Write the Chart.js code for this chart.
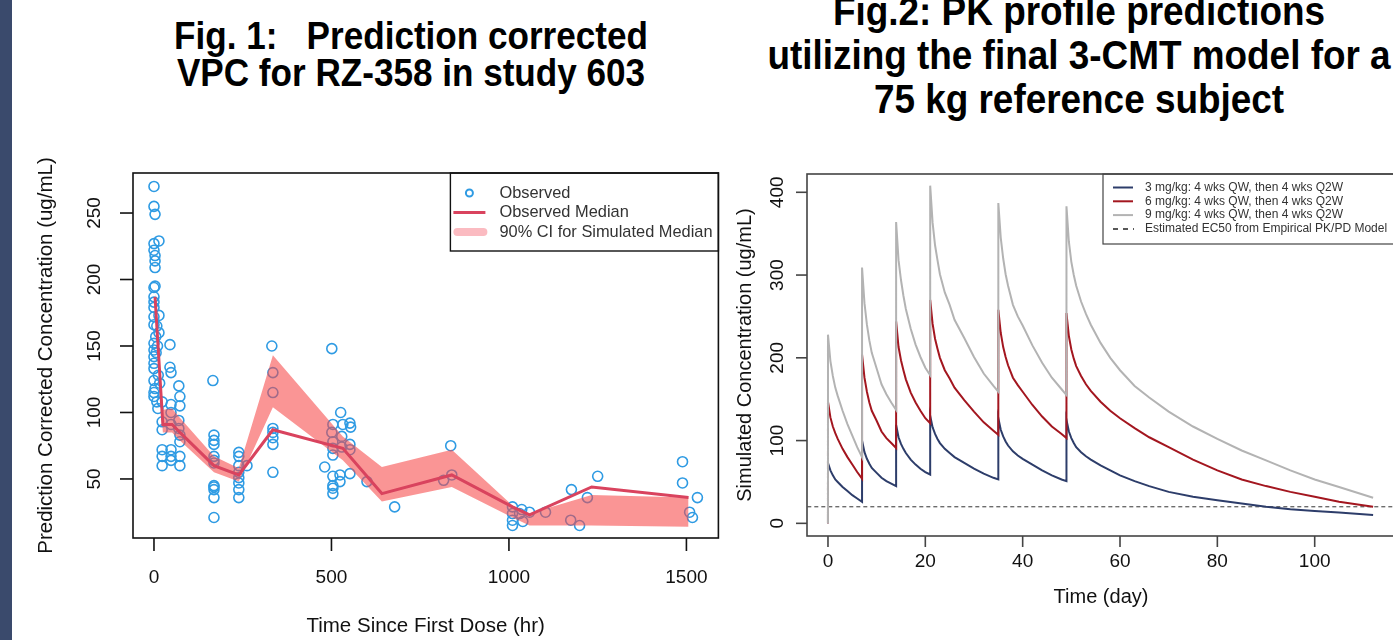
<!DOCTYPE html>
<html>
<head>
<meta charset="utf-8">
<script src="https://cdn.jsdelivr.net/npm/chart.js@4.4.1/dist/chart.umd.min.js"></script>
<style>
  html, body { margin: 0; padding: 0; background: #fff; }
  body { width: 1393px; height: 640px; overflow: hidden; position: relative; font-family: "Liberation Sans", Arial, sans-serif; }
  #strip { position: absolute; left: 0; top: 0; width: 12px; height: 640px; background: #3a4a6c; z-index: 2; }
  .t { position: absolute; font-weight: bold; color: #000; white-space: pre; transform: translateX(-50%) scaleX(0.9); }
  .t1 { font-size: 39px; line-height: 39px; }
  .t2 { font-size: 41px; line-height: 41px; }
  #c1 { position: absolute; left: 0; top: 0; }
  #c2 { position: absolute; left: 725px; top: 0; }
</style>
</head>
<body>
<div id="strip"></div>
<div class="t t1" style="left:411px; top:16px;">Fig. 1:   Prediction corrected</div>
<div class="t t1" style="left:411px; top:53px;">VPC for RZ-358 in study 603</div>
<div class="t t2" style="left:1079px; top:-9px;">Fig.2: PK profile predictions</div>
<div class="t t2" style="left:1079px; top:35px;">utilizing the final 3-CMT model for a</div>
<div class="t t2" style="left:1079px; top:79px;">75 kg reference subject</div>
<canvas id="c1" width="725" height="640"></canvas>
<canvas id="c2" width="675" height="640"></canvas>
<script>
// ---------- Fig. 1: pcVPC, observed data ----------
const obsTime = [0, 0, 3, 14, 0, 0, 3, 3, 3, 3, 0, 0, 0, 0, 14, 0, 0, 14, 0, 0, 45, 0, 45, 0, 0,
  48, 70, 0, 3, 0, 0, 73, 11, 23, 48, 73, 48, 70, 23, 23, 48, 70, 73, 73, 23, 48, 23, 48, 73, 23,
  48, 73, 8, 5, 10, 6, 12, 16, 8,
  166, 169, 169, 169, 169, 169, 169, 169, 169, 169, 169, 169,
  239, 239, 239, 239, 239, 239, 239, 239, 262,
  335, 335, 335, 335, 335, 335, 335, 332,
  501, 526, 504, 532, 552, 554, 501, 529, 504, 552, 504, 529, 504, 552, 481, 504, 524, 552, 504,
  504, 524, 504, 600, 678,
  836, 839, 816,
  1010, 1010, 1010, 1010, 1036, 1039, 1058, 1030, 1103,
  1176, 1174, 1199, 1221, 1250,
  1489, 1489, 1531, 1509, 1517];
const obsConc = [270, 255, 249, 229, 227, 222, 218, 214, 209, 195, 194, 187, 183, 179, 173, 172, 166, 160, 152, 147, 151, 142, 134, 137, 133,
  130, 120, 124, 118, 115, 112, 112, 103, 108, 106, 105, 100, 94, 93, 87, 91, 88, 83, 78, 72, 72, 67, 67, 67, 60,
  64, 60, 165, 157, 150, 145, 128, 122, 108,
  124, 83, 79, 76, 67, 64, 62, 45, 44, 42, 36, 21,
  70, 67, 60, 55, 51, 47, 42, 36, 60,
  130, 115, 88, 85, 81, 76, 55, 150,
  148, 100, 91, 91, 92, 89, 85, 82, 78, 76, 73, 74, 68, 72, 59, 52, 53, 54, 45,
  43, 48, 39, 48, 29,
  75, 53, 49,
  29, 24, 19, 15, 27, 18, 25, 24, 25,
  42, 19, 15, 36, 52,
  63, 47, 36, 25, 21];

// time bins, observed median and 90% CI of simulated median
const binTime  = [3, 25, 51, 73, 169, 239, 335, 532, 642, 839, 1010, 1058, 1233, 1506];
const obsMedian = [187, 91, 91, 85, 60, 53, 87, 73, 39, 53, 29, 23, 44, 36];
const ciUpper   = [190, 102, 103, 96, 67, 58, 143, 82, 59, 72, 30, 24, 38, 36];
const ciLower   = [178, 85, 85, 79, 55, 48, 104, 64, 33, 44, 21, 15, 15, 14];

const xTicks1 = [0, 500, 1000, 1500];
const yTicks1 = [50, 100, 150, 200, 250];
const legend1 = ['Observed', 'Observed Median', '90% CI for Simulated Median'];

// ---------- Fig. 2: PK profiles (days) ----------
const pkDay = [0, 0, 0.5, 1, 1.5, 2, 3, 4, 5, 6, 7,
  7, 7.5, 8, 8.5, 9, 10, 11, 12, 13, 14,
  14, 14.5, 15, 15.5, 16, 17, 18, 19, 20, 21,
  21, 21.5, 22, 22.5, 23, 24, 25, 26, 28, 30, 32, 34, 35,
  35, 35.5, 36, 36.5, 37, 38, 39, 40, 42, 44, 46, 48, 49,
  49, 49.5, 50, 50.5, 51, 52, 53, 54, 56, 58, 60, 63, 66, 70, 75, 80, 85, 90, 95, 100, 105, 112];
const conc3mg = [0, 73, 64, 58, 53, 50, 44, 39, 34, 30, 26,
  100, 86, 78, 72, 67, 61, 55, 51, 48, 45,
  119, 104, 96, 90, 85, 77, 71, 66, 62, 59,
  130, 116, 108, 102, 97, 90, 85, 80, 73, 66, 60, 55, 53,
  127, 113, 105, 99, 94, 87, 82, 78, 71, 64, 58, 53, 51,
  125, 111, 103, 97, 92, 86, 81, 77, 70, 64, 58, 51, 45, 38, 32, 28, 24, 20, 17, 15, 13, 10];
const conc6mg = [0, 147, 128, 117, 109, 102, 90, 80, 71, 62, 54,
  204, 176, 159, 146, 136, 124, 111, 103, 97, 91,
  244, 213, 197, 185, 174, 158, 146, 136, 127, 121,
  270, 241, 223, 211, 200, 185, 175, 164, 149, 135, 122, 112, 107,
  258, 230, 213, 201, 191, 176, 167, 159, 143, 129, 117, 108, 103,
  254, 226, 210, 199, 190, 178, 168, 160, 147, 136, 127, 115, 104, 92, 77, 64, 53, 45, 38, 32, 26, 20];
const conc9mg = [0, 228, 196, 178, 164, 154, 136, 120, 106, 92, 80,
  309, 266, 240, 221, 206, 187, 168, 156, 146, 137,
  364, 318, 294, 275, 259, 235, 216, 201, 188, 179,
  408, 363, 336, 318, 301, 279, 264, 246, 224, 201, 181, 166, 159,
  387, 345, 320, 301, 287, 264, 250, 239, 215, 194, 176, 162, 155,
  383, 340, 316, 300, 287, 268, 253, 240, 218, 200, 185, 166, 152, 135, 117, 102, 88, 76, 64, 53, 44, 31];
const ec50 = 20;

const xTicks2 = [0, 20, 40, 60, 80, 100];
const yTicks2 = [0, 100, 200, 300, 400];
const legend2 = ['3 mg/kg: 4 wks QW, then 4 wks Q2W', '6 mg/kg: 4 wks QW, then 4 wks Q2W',
  '9 mg/kg: 4 wks QW, then 4 wks Q2W', 'Estimated EC50 from Empirical PK/PD Model'];

const FONT = '"Liberation Sans", Arial, sans-serif';
const pts = (xs, ys) => xs.map((x, i) => ({ x: x, y: ys[i] }));

// R style box, ticks, rotated y labels and axis titles
function rAxes(o) {
  return {
    id: 'rAxes',
    afterDraw(chart) {
      const ctx = chart.ctx, a = chart.chartArea;
      const sx = chart.scales.x, sy = chart.scales.y;
      ctx.save();
      ctx.strokeStyle = o.axisColor;
      ctx.lineWidth = o.lineWidth;
      ctx.strokeRect(a.left, a.top, a.right - a.left, a.bottom - a.top);
      ctx.fillStyle = '#111';
      ctx.textAlign = 'center';
      ctx.textBaseline = 'middle';
      ctx.font = o.tickFont;
      o.xTicks.forEach(v => {
        const x = sx.getPixelForValue(v);
        ctx.beginPath(); ctx.moveTo(x, a.bottom); ctx.lineTo(x, a.bottom + o.tickLen); ctx.stroke();
        ctx.fillText(String(v), x, a.bottom + o.xLabelOff);
      });
      o.yTicks.forEach(v => {
        const y = sy.getPixelForValue(v);
        ctx.beginPath(); ctx.moveTo(a.left - o.tickLen, y); ctx.lineTo(a.left, y); ctx.stroke();
        ctx.save();
        ctx.translate(a.left - o.yLabelOff, y);
        ctx.rotate(-Math.PI / 2);
        ctx.fillText(String(v), 0, 0);
        ctx.restore();
      });
      ctx.font = o.titleFont;
      ctx.fillText(o.xTitle, (a.left + a.right) / 2, a.bottom + o.xTitleOff);
      ctx.save();
      ctx.translate(a.left - o.yTitleOff, (a.top + a.bottom) / 2);
      ctx.rotate(-Math.PI / 2);
      ctx.fillText(o.yTitle, 0, 0);
      ctx.restore();
      if (o.legend) o.legend(ctx, a);
      ctx.restore();
    }
  };
}

const fixedScale = (min, max, size) => ({
  type: 'linear', min: min, max: max,
  grid: { display: false }, border: { display: false },
  ticks: { display: false },
  afterFit: s => { if (s.isHorizontal()) s.height = size; else s.width = size; }
});

// ---- chart 1 ----
const obsColor = '#2f9be3', medColor = '#d9435e';
new Chart(document.getElementById('c1'), {
  type: 'scatter',
  data: {
    datasets: [
      { data: pts(binTime, obsMedian), showLine: true, borderColor: medColor, borderWidth: 3,
        pointRadius: 0, fill: false, order: 1 },
      { data: pts(binTime, ciUpper), showLine: true, borderColor: 'rgba(0,0,0,0)', pointRadius: 0,
        fill: '+1', backgroundColor: 'rgba(246,72,72,0.58)', order: 2 },
      { data: pts(binTime, ciLower), showLine: true, borderColor: 'rgba(0,0,0,0)', pointRadius: 0,
        fill: false, order: 2 },
      { data: pts(obsTime, obsConc), pointRadius: 5, pointBorderWidth: 1.6, borderColor: obsColor,
        pointBackgroundColor: 'rgba(0,0,0,0)', order: 3 }
    ]
  },
  options: {
    responsive: false, animation: false, events: [],
    layout: { padding: { left: 0, top: 173, right: 6, bottom: 0 } },
    plugins: { legend: { display: false }, tooltip: { enabled: false } },
    scales: { x: fixedScale(-59.1, 1590.1, 102), y: fixedScale(5.6, 280.1, 133) }
  },
  plugins: [rAxes({
    axisColor: '#111', lineWidth: 1.6, tickLen: 13,
    tickFont: '19px ' + FONT, titleFont: '20.5px ' + FONT,
    xTicks: xTicks1, yTicks: yTicks1,
    xLabelOff: 40, xTitleOff: 88, yLabelOff: 38, yTitleOff: 87,
    xTitle: 'Time Since First Dose (hr)', yTitle: 'Prediction Corrected Concentration (ug/mL)',
    legend: (ctx, a) => {
      const left = a.right - 268, bottom = a.top + 78;
      ctx.strokeStyle = '#111'; ctx.lineWidth = 1.4;
      ctx.strokeRect(left, a.top, a.right - left, bottom - a.top);
      const rows = [a.top + 20, a.top + 39.5, a.top + 59];
      ctx.strokeStyle = obsColor; ctx.lineWidth = 2;
      ctx.beginPath(); ctx.arc(left + 19, rows[0], 3.5, 0, 2 * Math.PI); ctx.stroke();
      ctx.strokeStyle = medColor; ctx.lineWidth = 3;
      ctx.beginPath(); ctx.moveTo(left + 3, rows[1]); ctx.lineTo(left + 35, rows[1]); ctx.stroke();
      ctx.strokeStyle = 'rgba(250,170,178,0.8)'; ctx.lineWidth = 8; ctx.lineCap = 'round';
      ctx.beginPath(); ctx.moveTo(left + 7, rows[2]); ctx.lineTo(left + 33, rows[2]); ctx.stroke();
      ctx.fillStyle = '#333'; ctx.font = '16.4px ' + FONT; ctx.textAlign = 'left';
      legend1.forEach((t, i) => ctx.fillText(t, left + 49, rows[i]));
    }
  })]
});

// ---- chart 2 ----
const c3 = '#2d3d6a', c6 = '#a3161f', c9 = '#b3b3b3';
const lineDs = (ys, color, ord) => ({ data: pts(pkDay, ys), showLine: true, borderColor: color,
  borderWidth: 2, pointRadius: 0, fill: false, order: ord });
new Chart(document.getElementById('c2'), {
  type: 'scatter',
  data: {
    datasets: [
      lineDs(conc9mg, c9, 1),
      lineDs(conc6mg, c6, 2),
      lineDs(conc3mg, c3, 3),
      { data: [{ x: -10, y: ec50 }, { x: 130, y: ec50 }], showLine: true, borderColor: '#333',
        borderWidth: 1, borderDash: [4, 3], pointRadius: 0, fill: false, order: 4 }
    ]
  },
  options: {
    responsive: false, animation: false, events: [],
    layout: { padding: { left: 0, top: 174, right: 5, bottom: 0 } },
    plugins: { legend: { display: false }, tooltip: { enabled: false } },
    scales: { x: fixedScale(-4.31, 116.5, 104), y: fixedScale(-15.3, 422.1, 82) }
  },
  plugins: [rAxes({
    axisColor: '#444', lineWidth: 1.6, tickLen: 11,
    tickFont: '19px ' + FONT, titleFont: '20px ' + FONT,
    xTicks: xTicks2, yTicks: yTicks2,
    xLabelOff: 26, xTitleOff: 61, yLabelOff: 29, yTitleOff: 62,
    xTitle: 'Time (day)', yTitle: 'Simulated Concentration (ug/mL)',
    legend: (ctx, a) => {
      const left = a.left + 296, bottom = a.top + 70;
      ctx.strokeStyle = '#444'; ctx.lineWidth = 1.2;
      ctx.strokeRect(left, a.top, a.right - left + 10, bottom - a.top);
      const rows = [13.5, 27.3, 41.1, 55].map(d => a.top + d);
      [c3, c6, c9].forEach((c, i) => {
        ctx.strokeStyle = c; ctx.lineWidth = 2;
        ctx.beginPath(); ctx.moveTo(left + 10, rows[i]); ctx.lineTo(left + 30, rows[i]); ctx.stroke();
      });
      ctx.strokeStyle = '#222'; ctx.lineWidth = 1.5; ctx.setLineDash([5, 5]);
      ctx.beginPath(); ctx.moveTo(left + 10, rows[3]); ctx.lineTo(left + 31, rows[3]); ctx.stroke();
      ctx.setLineDash([]);
      ctx.fillStyle = '#333'; ctx.font = '12px ' + FONT; ctx.textAlign = 'left';
      legend2.forEach((t, i) => ctx.fillText(t, left + 42, rows[i]));
    }
  })]
});
</script>
</body>
</html>
